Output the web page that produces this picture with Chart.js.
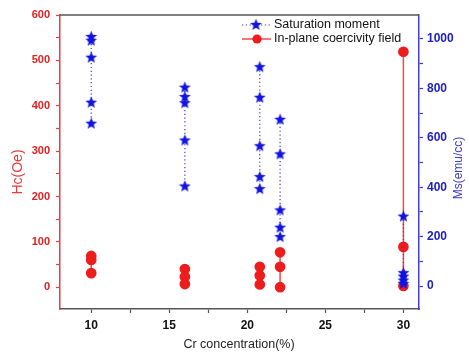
<!DOCTYPE html>
<html>
<head>
<meta charset="utf-8">
<script src="https://cdn.jsdelivr.net/npm/chart.js@4.4.1/dist/chart.umd.min.js"></script>
<style>
html, body { margin: 0; padding: 0; background: #fff; }
</style>
</head>
<body>
<canvas id="chart" width="469" height="354"></canvas>
<script>
// Cr concentration (%) of each sample group
const crConc = [10, 16, 20.8, 22.1, 30];

// Saturation moment Ms (emu/cc), one list per group
const msValues = [
    [1010, 995, 926, 744, 659],
    [805, 767, 742, 591, 405],
    [888, 764, 568, 443, 394],
    [675, 535, 308, 238, 200],
    [283, 54, 40, 24, 11]
];

// In-plane coercivity field Hc (Oe), one list per group
const hcValues = [
    [69, 60, 31],
    [40, 23, 7],
    [45, 26, 6],
    [77, 45, 0],
    [519, 89, 3]
];

// Tick labels
const xTicks = [10, 15, 20, 25, 30];
const hcTicks = [0, 100, 200, 300, 400, 500, 600];
const msTicks = [0, 200, 400, 600, 800, 1000];

const FONT = "'Liberation Sans', Arial, sans-serif";
const RED = '#ee1c1c';
const BLUE = '#1414e0';

// filled 5 point star used as marker
function starImage(color) {
    const c = document.createElement('canvas');
    c.width = 13; c.height = 13;
    const g = c.getContext('2d');
    g.beginPath();
    for (let i = 0; i < 10; i++) {
        const r = i % 2 === 0 ? 6.2 : 2.7;
        const a = -Math.PI / 2 + i * Math.PI / 5;
        const px = 6.5 + r * Math.cos(a), py = 7 + r * Math.sin(a);
        if (i === 0) g.moveTo(px, py); else g.lineTo(px, py);
    }
    g.closePath();
    g.fillStyle = color;
    g.fill();
    return c;
}
const star = starImage(BLUE);

// major ticks plus one minor tick between each pair
function withMinor(list) {
    const out = [];
    list.forEach((v, i) => {
        out.push(v);
        if (i < list.length - 1) out.push((v + list[i + 1]) / 2);
    });
    return out;
}

const datasets = [];
crConc.forEach((x, i) => {
    datasets.push({
        label: 'Saturation moment',
        data: msValues[i].map(v => ({ x: x, y: v })),
        yAxisID: 'y2',
        showLine: true,
        borderColor: '#3b3bd6',
        borderWidth: 1.2,
        borderDash: [1.2, 2.6],
        pointStyle: star,
        pointRadius: 6
    });
});
crConc.forEach((x, i) => {
    datasets.push({
        label: 'In-plane coercivity field',
        data: hcValues[i].map(v => ({ x: x, y: v })),
        yAxisID: 'y',
        showLine: true,
        borderColor: '#ef4a4a',
        borderWidth: 1.5,
        pointStyle: 'circle',
        pointRadius: 4.6,
        pointBackgroundColor: RED,
        pointBorderColor: RED
    });
});

// top frame line, axis titles and legend
const decor = {
    id: 'decor',
    afterDraw(chart) {
        const ctx = chart.ctx;
        const a = chart.chartArea;
        ctx.save();
        ctx.strokeStyle = '#555';
        ctx.lineWidth = 1.5;
        ctx.beginPath();
        ctx.moveTo(a.left, a.top);
        ctx.lineTo(a.right, a.top);
        ctx.stroke();

        ctx.textAlign = 'center';
        ctx.textBaseline = 'middle';
        ctx.fillStyle = '#222';
        ctx.font = '12.5px ' + FONT;
        ctx.fillText('Cr concentration(%)', 239, 345);

        ctx.save();
        ctx.translate(18, 172);
        ctx.rotate(-Math.PI / 2);
        ctx.fillStyle = '#e83a3a';
        ctx.font = '14px ' + FONT;
        ctx.fillText('Hc(Oe)', 0, 0);
        ctx.restore();

        ctx.save();
        ctx.translate(459, 168);
        ctx.rotate(-Math.PI / 2);
        ctx.fillStyle = '#3a3acc';
        ctx.font = '12px ' + FONT;
        ctx.fillText('Ms(emu/cc)', 0, 0);
        ctx.restore();

        // legend
        ctx.textAlign = 'left';
        ctx.fillStyle = '#111';
        ctx.font = '12.5px ' + FONT;
        ctx.strokeStyle = '#3b3bd6';
        ctx.lineWidth = 1.2;
        ctx.setLineDash([1.2, 2.6]);
        ctx.beginPath();
        ctx.moveTo(242, 25);
        ctx.lineTo(271, 25);
        ctx.stroke();
        ctx.setLineDash([]);
        ctx.drawImage(star, 256 - 6.5, 25 - 7);
        ctx.fillText('Saturation moment', 274, 25);

        ctx.strokeStyle = '#ef4a4a';
        ctx.lineWidth = 1.5;
        ctx.beginPath();
        ctx.moveTo(242, 39);
        ctx.lineTo(271, 39);
        ctx.stroke();
        ctx.fillStyle = RED;
        ctx.beginPath();
        ctx.arc(257, 39, 4.6, 0, Math.PI * 2);
        ctx.fill();
        ctx.fillStyle = '#111';
        ctx.fillText('In-plane coercivity field', 274, 39);
        ctx.restore();
    }
};

new Chart(document.getElementById('chart'), {
    type: 'scatter',
    data: { datasets: datasets },
    plugins: [decor],
    options: {
        responsive: false,
        animation: false,
        layout: { padding: { top: 15 } },
        plugins: {
            legend: { display: false },
            tooltip: { enabled: false }
        },
        scales: {
            x: {
                type: 'linear',
                position: 'bottom',
                min: 8,
                max: 31,
                afterBuildTicks: s => { s.ticks = withMinor(xTicks).map(v => ({ value: v })); },
                afterFit: s => { s.height = 45; },
                grid: { drawOnChartArea: false, tickLength: 4, tickColor: '#555', tickWidth: 1.2 },
                border: { color: '#555', width: 1.5 },
                ticks: {
                    autoSkip: false,
                    maxRotation: 0,
                    padding: 5,
                    color: '#111',
                    font: { family: FONT, size: 12, weight: 'bold' },
                    callback: v => xTicks.includes(v) ? String(v) : ''
                }
            },
            y: {
                position: 'left',
                min: -48,
                max: 600,
                afterBuildTicks: s => { s.ticks = withMinor(hcTicks).map(v => ({ value: v })); },
                afterFit: s => { s.width = 60; },
                grid: { drawOnChartArea: false, tickLength: 4, tickColor: '#e04040', tickWidth: 1.2 },
                border: { color: '#e04040', width: 1.5 },
                ticks: {
                    autoSkip: false,
                    padding: 6,
                    color: '#e02020',
                    font: { family: FONT, size: 11, weight: 'bold' },
                    callback: v => hcTicks.includes(v) ? String(v) : ''
                }
            },
            y2: {
                position: 'right',
                min: -93,
                max: 1097,
                afterBuildTicks: s => { s.ticks = withMinor(msTicks).map(v => ({ value: v })); },
                afterFit: s => { s.width = 50; },
                grid: { drawOnChartArea: false, tickLength: 4, tickColor: '#3a3acc', tickWidth: 1.2 },
                border: { color: '#4040cc', width: 1.5 },
                ticks: {
                    autoSkip: false,
                    padding: 4,
                    color: '#2020c0',
                    font: { family: FONT, size: 12, weight: 'bold' },
                    callback: v => msTicks.includes(v) ? String(v) : ''
                }
            }
        }
    }
});
</script>
</body>
</html>
